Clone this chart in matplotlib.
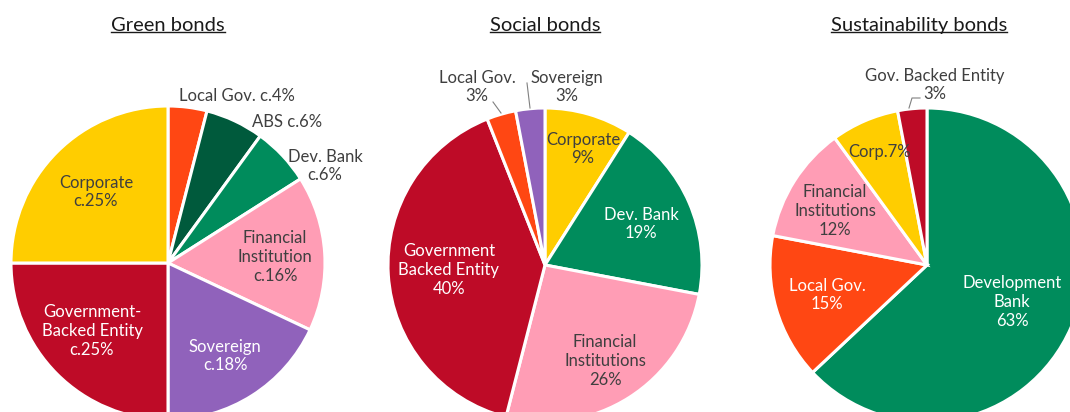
import matplotlib
matplotlib.use("Agg")
import matplotlib.pyplot as plt
from matplotlib.lines import Line2D

# ---------------- data ----------------
titles = ["Green bonds", "Social bonds", "Sustainability bonds"]

green_cats = ["Local Gov.", "ABS", "Dev. Bank", "Financial Institution", "Sovereign",
              "Government-Backed Entity", "Corporate"]
green_vals = [4, 6, 6, 16, 18, 25, 25]
green_text = ["Local Gov. c.4%", "ABS c.6%", "Dev. Bank\nc.6%", "Financial\nInstitution\nc.16%",
              "Sovereign\nc.18%", "Government-\nBacked Entity\nc.25%", "Corporate\nc.25%"]

social_cats = ["Corporate", "Dev. Bank", "Financial Institutions", "Government Backed Entity",
               "Local Gov.", "Sovereign"]
social_vals = [9, 19, 26, 40, 3, 3]
social_text = ["Corporate\n9%", "Dev. Bank\n19%", "Financial\nInstitutions\n26%",
               "Government\nBacked Entity\n40%", "Local Gov.\n3%", "Sovereign\n3%"]

sust_cats = ["Development Bank", "Local Gov.", "Financial Institutions", "Corp.", "Gov. Backed Entity"]
sust_vals = [63, 15, 12, 7, 3]
sust_text = ["Development\nBank\n63%", "Local Gov.\n15%", "Financial\nInstitutions\n12%",
             "Corp.7%", "Gov. Backed Entity\n3%"]

# ---------------- style ----------------
YEL = "#FFCD00"
RED = "#BE0B27"
PUR = "#9062BB"
PNK = "#FF9DB5"
GRN = "#008C5C"
DGR = "#005A3C"
ORG = "#FF4713"
DARK = "#3F3F3F"
WHITE = "#FFFFFF"

green_cols = [ORG, DGR, GRN, PNK, PUR, RED, YEL]
social_cols = [YEL, GRN, PNK, RED, ORG, PUR]
sust_cols = [GRN, ORG, PNK, YEL, RED]

W, H = 1070, 412
plt.rcParams['font.family'] = ['Lato', 'DejaVu Sans']

fig = plt.figure(figsize=(W / 100, H / 100), dpi=100)
ax = fig.add_axes([0, 0, 1, 1])


def Y(py):
    return H - py


R = 157
centers = [(168, Y(263)), (545, Y(265)), (927, Y(265))]

for vals, cols, c in [(green_vals, green_cols, centers[0]),
                      (social_vals, social_cols, centers[1]),
                      (sust_vals, sust_cols, centers[2])]:
    ax.pie(vals, colors=cols, startangle=90, counterclock=False, center=c, radius=R,
           wedgeprops=dict(edgecolor="white", linewidth=2.2), frame=True)

ax.set_xlim(0, W)
ax.set_ylim(0, H)
ax.set_aspect("equal", adjustable="box")
ax.axis("off")

FS = 12

def lab(x, y, s, color=DARK, ha="center"):
    ax.text(x, Y(y), s, ha=ha, va="center", fontsize=FS, color=color, linespacing=1.2)

# green
lab(237, 96, green_text[0])
lab(287, 122, green_text[1])
lab(325, 166, green_text[2])
lab(275, 257, green_text[3])
lab(225, 356, green_text[4], WHITE)
lab(92, 331, green_text[5], WHITE)
lab(96, 192, green_text[6])

# social
lab(583, 149, social_text[0])
lab(641, 224, social_text[1], WHITE)
lab(605, 361, social_text[2])
lab(449, 270, social_text[3], WHITE)
lab(477, 87, social_text[4])
lab(567, 87, social_text[5])
ax.add_line(Line2D([493, 501], [Y(102), Y(113)], color="#808080", lw=0.8))
ax.add_line(Line2D([527, 530], [Y(83), Y(108)], color="#808080", lw=0.8))

# sustainability
lab(1012, 302, sust_text[0], WHITE)
lab(827, 295, sust_text[1], WHITE)
lab(835, 211, sust_text[2])
lab(880, 152, sust_text[3])
lab(935, 85, sust_text[4])
ax.add_line(Line2D([920, 912, 909], [Y(98), Y(98), Y(108)], color="#808080", lw=0.8))

# titles with underline
title_x = [168, 545, 919]
tobjs = []
for tx, t in zip(title_x, titles):
    tobjs.append(ax.text(tx, Y(25), t, ha="center", va="center", fontsize=14.5, color="#1a1a1a"))

fig.canvas.draw()
r = fig.canvas.get_renderer()
inv = ax.transData.inverted()
for t in tobjs:
    bb = t.get_window_extent(renderer=r)
    (x0, y0), (x1, y1) = inv.transform([[bb.x0, bb.y0], [bb.x1, bb.y1]])
    ax.add_line(Line2D([x0, x1], [y0 + 2.0, y0 + 2.0], color="#1a1a1a", lw=1.0))

fig.savefig("out.png", dpi=100)
